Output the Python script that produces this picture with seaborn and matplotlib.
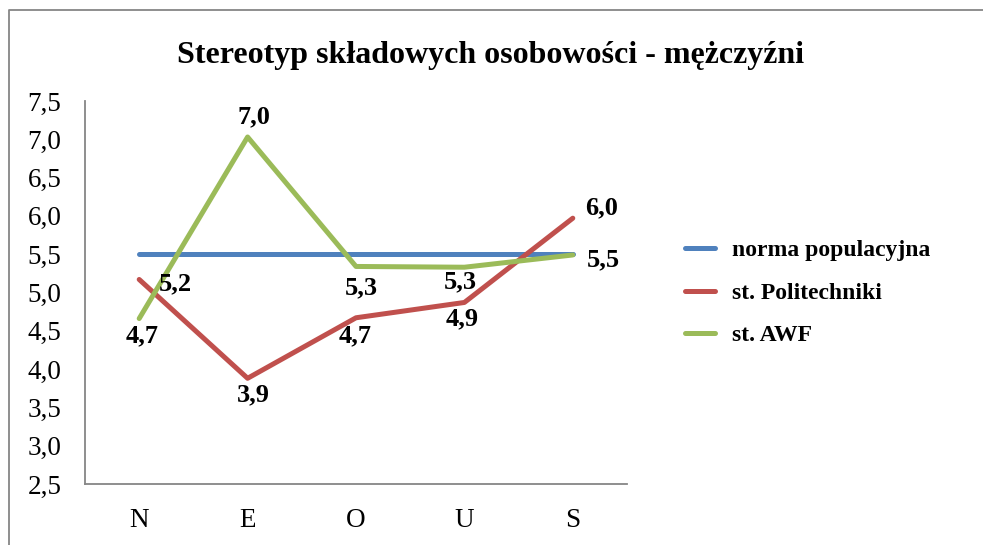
import matplotlib
matplotlib.use("Agg")
import matplotlib.pyplot as plt
from matplotlib.lines import Line2D
import seaborn as sns
import pandas as pd

categories = ["N", "E", "O", "U", "S"]
series_names = ["norma populacyjna", "st. Politechniki", "st. AWF"]
norma = [5.5, 5.5, 5.5, 5.5, 5.5]
politechnika = [5.17, 3.88, 4.67, 4.87, 5.97]
awf = [4.66, 7.03, 5.34, 5.33, 5.49]
y_ticks = [2.5, 3.0, 3.5, 4.0, 4.5, 5.0, 5.5, 6.0, 6.5, 7.0, 7.5]
title = "Stereotyp składowych osobowości - mężczyźni"
colors = ["#4F81BD", "#C0504D", "#9BBB59"]

# label offsets in pixels (dx, dy) for the two labelled series
pol_offsets = [(36, -4), (6, -17), (-1, -18), (-2, -16), (29, 10)]
awf_offsets = [(3, -17), (6, 20), (5, -21), (-4, -15), (31, -5)]

df = pd.DataFrame({
    "cat": categories * 3,
    "x": list(range(len(categories))) * 3,
    "val": norma + politechnika + awf,
    "series": [series_names[0]] * 5 + [series_names[1]] * 5 + [series_names[2]] * 5,
})

sns.set_style("white")
plt.rcParams["font.family"] = ["Liberation Serif", "DejaVu Serif"]
plt.rcParams["text.color"] = "black"

W, H = 983, 545
fig = plt.figure(figsize=(W / 100, H / 100), dpi=100)
left, right, top, bottom = 85, 627, 101, 484
ax = fig.add_axes([left / W, 1 - bottom / H, (right - left) / W, (bottom - top) / H])

sns.lineplot(data=df, x="x", y="val", hue="series", palette=colors,
             hue_order=series_names, linewidth=3.6, ax=ax, legend=False,
             solid_capstyle="round")

ax.set_xlim(-0.5, len(categories) - 0.5)
ax.set_ylim(2.5, 7.5)
ax.set_xticks(range(len(categories)))
ax.set_xticklabels(categories)
ax.set_yticks(y_ticks)
ax.set_yticklabels([f"{v:.1f}".replace(".", ",") for v in y_ticks])
ax.tick_params(axis="both", length=0, labelsize=19.5, colors="black")
ax.tick_params(axis="y", pad=17)
ax.tick_params(axis="x", pad=17)
ax.set_xlabel("")
ax.set_ylabel("")
for s in ["top", "right"]:
    ax.spines[s].set_visible(False)
for s in ["left", "bottom"]:
    ax.spines[s].set_color("#868686")
    ax.spines[s].set_linewidth(1.3)

for vals, offs in [(politechnika, pol_offsets), (awf, awf_offsets)]:
    for i, (v, (dx, dy)) in enumerate(zip(vals, offs)):
        ax.annotate(f"{v:.1f}".replace(".", ","), xy=(i, v), xytext=(dx, dy),
                    textcoords="offset pixels", ha="center", va="center",
                    fontsize=19, fontweight="bold", color="black",
                    annotation_clip=False)

fig.text(491 / W, 1 - 55 / H, title, ha="center", va="center",
         fontsize=23, fontweight="bold", color="black")

handles = [Line2D([0], [0], color=c, lw=3.6, solid_capstyle="round") for c in colors]
leg = fig.legend(handles, series_names, loc="center left",
                 bbox_to_anchor=(685 / W, 1 - 293 / H), frameon=False,
                 prop={"family": "Liberation Serif", "weight": "bold", "size": 17},
                 handlelength=1.25, handletextpad=0.75, labelspacing=0.88,
                 borderpad=0, borderaxespad=0)
for t in leg.get_texts():
    t.set_color("black")

fig.add_artist(Line2D([9 / W, 9 / W, 1.0], [0.0, 1 - 10 / H, 1 - 10 / H],
                      transform=fig.transFigure, color="#868686", lw=1.3))

fig.savefig("out.png", dpi=100, facecolor="white")
